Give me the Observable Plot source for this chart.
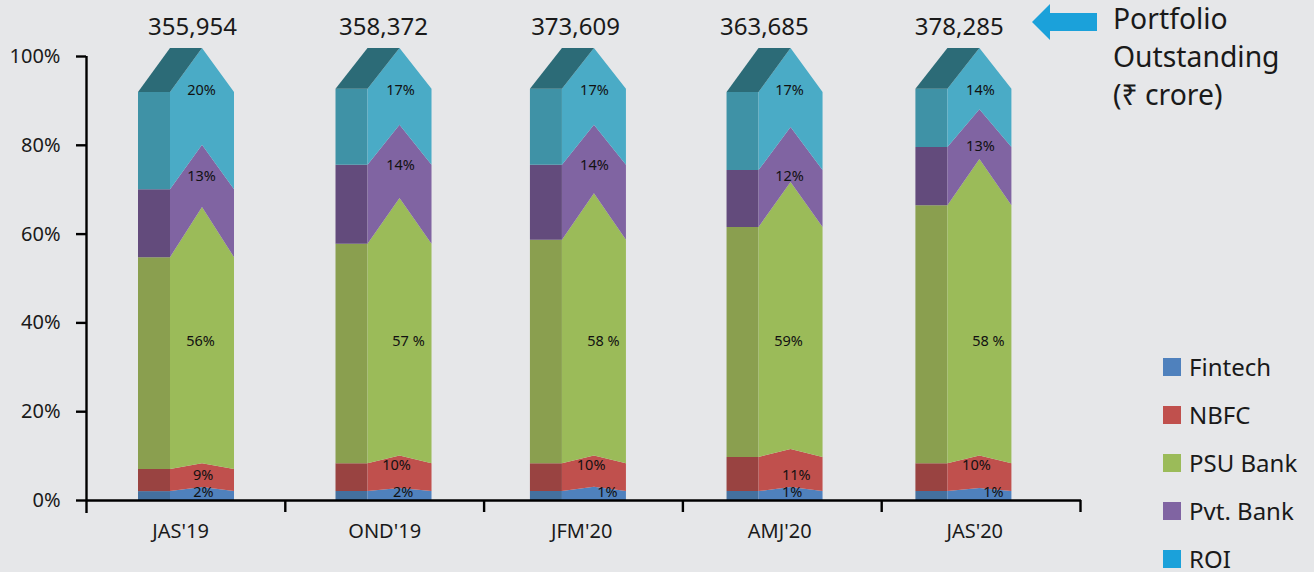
<!DOCTYPE html>
<html><head><meta charset="utf-8">
<script src="https://cdn.jsdelivr.net/npm/d3@7"></script>
<script src="https://cdn.jsdelivr.net/npm/@observablehq/plot@0.6"></script>
<style>
html,body{margin:0;padding:0;background:#E6E7E9;overflow:hidden}
#wrap{position:relative;width:1314px;height:572px;font-family:"Noto Sans",sans-serif;color:#1a1a1a}
#wrap svg.plot{display:block}
#note{position:absolute;left:1113px;top:-1px;font-size:28.3px;line-height:38px;white-space:nowrap}
#arrow{position:absolute;left:1032px;top:4px}
.lg{position:absolute;left:1163px;height:18px;line-height:18px;display:flex;align-items:center;font-size:24px;white-space:nowrap}
.lg i{display:block;width:18px;height:18px;margin-right:8px}
.lg span{display:block;height:18px;line-height:18px}
</style></head><body><div id="wrap"></div>
<script>
const periods = ["JAS'19","OND'19","JFM'20","AMJ'20","JAS'20"];
const totals = ["355,954","358,372","373,609","363,685","378,285"];
const seriesNames = ["Fintech","NBFC","PSU Bank","Pvt. Bank","ROI"];
const legendColors = ["#4F81BD","#C0504D","#9BBB59","#8064A2","#1BA1DA"];
const frontColors = ["#4F81BD","#C0504D","#9BBB59","#8064A2","#4AABC6"];
const sideColors = ["#44709E","#994341","#8A9F4F","#634B7C","#3F92A6"];
const topColor = "#2C6B77";

// cumulative share (%) at the shoulders of each column
const fintechEdge = [2, 2, 2, 2, 2];
const nbfcEdge = [7, 8.3, 8.3, 9.7, 8.3];
const psuEdge = [54.7, 57.7, 58.6, 61.5, 66.4];
const pvtEdge = [70, 75.5, 75.5, 74.3, 79.5];
const roiEdge = [91.9, 92.6, 92.6, 91.9, 92.6];
// cumulative share (%) at the apex of each column
const fintechPeak = [2.9, 2.7, 3, 2.9, 2.7];
const nbfcPeak = [8.3, 10, 10, 11.5, 10];
const psuPeak = [66, 68, 69.1, 71.6, 76.8];
const pvtPeak = [80, 84.5, 84.5, 84, 88];
const roiPeak = [101.8, 101.8, 101.8, 101.8, 101.8];

// printed labels
const fintechLabels = ["2%","2%","1%","1%","1%"];
const nbfcLabels = ["9%","10%","10%","11%","10%"];
const psuLabels = ["56%","57 %","58 %","59%","58 %"];
const pvtLabels = ["13%","14%","14%","12%","13%"];
const roiLabels = ["20%","17%","17%","17%","14%"];

// layout helpers (x unit = one axis interval)
const unit = 198.8;
const apexX = [0.5835, 1.577, 2.555, 3.544, 4.494];
const halfFront = 32 / unit;
const periodX = [0.473, 1.5, 2.491, 3.487, 4.468];
const totalX = [0.533, 1.494, 2.46, 3.41, 4.39];
const labelNudge = [
  [1, 3.2, 13, 1.2, 13.5],
  [0.7, -3.5, -3.3, 5.2, -3.5],
  [-2, 8.5, 9, -2.5, 8.5],
  [-1, 0.5, 0, -1.5, 0.5],
  [-1, 0.5, 0, -1.5, 0.5]
];
const labelLevel = [
  [1.8, 1.9, 1.8, 1.8, 1.8],
  [5.6, 8, 8, 5.6, 8],
  [35.8, 35.8, 35.8, 35.8, 35.8],
  [73, 75.5, 75.5, 73, 79.7],
  [92.3, 92.3, 92.3, 92.3, 92.3]
];

const edges = [fintechEdge, nbfcEdge, psuEdge, pvtEdge, roiEdge];
const peaks = [fintechPeak, nbfcPeak, psuPeak, pvtPeak, roiPeak];
const labels = [fintechLabels, nbfcLabels, psuLabels, pvtLabels, roiLabels];

const faces = [];
const tags = [];
periods.forEach((p, b) => {
  const c = apexX[b], w = halfFront;
  seriesNames.forEach((s, k) => {
    const loE = k ? edges[k-1][b] : 0, hiE = edges[k][b];
    const loP = k ? peaks[k-1][b] : 0, hiP = peaks[k][b];
    const side = `side-${b}-${k}`, front = `front-${b}-${k}`;
    faces.push(
      {id: side, x: c-2*w, lo: loE, hi: hiE, color: sideColors[k]},
      {id: side, x: c-w, lo: loE, hi: hiE, color: sideColors[k]},
      {id: front, x: c-w, lo: loE, hi: hiE, color: frontColors[k]},
      {id: front, x: c, lo: loP, hi: hiP, color: frontColors[k]},
      {id: front, x: c+w, lo: loE, hi: hiE, color: frontColors[k]}
    );
    tags.push({x: c + labelNudge[k][b]/unit, y: labelLevel[k][b], t: labels[k][b]});
  });
  const top = `top-${b}`;
  faces.push(
    {id: top, x: c-2*w, lo: roiEdge[b], hi: roiEdge[b], color: topColor},
    {id: top, x: c-w, lo: roiEdge[b], hi: roiPeak[b], color: topColor},
    {id: top, x: c, lo: roiPeak[b], hi: roiPeak[b], color: topColor}
  );
});

const chart = Plot.plot({
  width: 1314, height: 572,
  marginLeft: 86, marginRight: 234, marginTop: 56, marginBottom: 72,
  style: {background: "transparent", fontFamily: '"Noto Sans",sans-serif', color: "#1a1a1a", overflow: "visible"},
  x: {type: "linear", domain: [0, 5], axis: null},
  y: {domain: [0, 100], axis: null},
  color: {type: "identity"},
  marks: [
    Plot.area(faces, {x1: "x", y1: "lo", y2: "hi", z: "id", fill: "color", curve: "linear"}),
    Plot.axisY({anchor: "left", ticks: [0,20,40,60,80,100], tickFormat: d => d + "%",
      tickSize: 10, tickPadding: 16, fontSize: 20, stroke: "#000", strokeWidth: 2.4, label: null, fill: "#1a1a1a"}),
    Plot.ruleX([0], {y1: -2.9, y2: 100, stroke: "#000", strokeWidth: 2.4}),
    Plot.ruleY([0], {x1: 0, x2: 5.005, stroke: "#000", strokeWidth: 2.4}),
    Plot.ruleX([1,2,3,4,5], {y1: 0, y2: -2.7, stroke: "#000", strokeWidth: 2.4}),
    Plot.text(tags, {x: "x", y: "y", text: "t", fontSize: 14.5, fill: "#111"}),
    Plot.text(periods, {x: (d,i) => periodX[i], y: () => -6.9, text: d => d, fontSize: 20, fill: "#1a1a1a"}),
    Plot.text(totals, {x: (d,i) => totalX[i], y: () => 106.6, text: d => d, fontSize: 24, fill: "#1a1a1a"})
  ]
});
const wrap = document.getElementById("wrap");
wrap.appendChild(chart);

wrap.insertAdjacentHTML("beforeend",
  `<svg id="arrow" width="66" height="37"><path d="M0 18 L18 0 V9 H65 V27 H18 V36 Z" fill="#1BA1DA"/></svg>
   <div id="note">Portfolio<br>Outstanding<br>(₹ crore)</div>`);
seriesNames.forEach((s, i) => {
  const d = document.createElement("div");
  d.className = "lg";
  d.style.top = (358 + 48*i) + "px";
  d.innerHTML = `<i style="background:${legendColors[i]}"></i><span>${s}</span>`;
  wrap.appendChild(d);
});
</script></body></html>
